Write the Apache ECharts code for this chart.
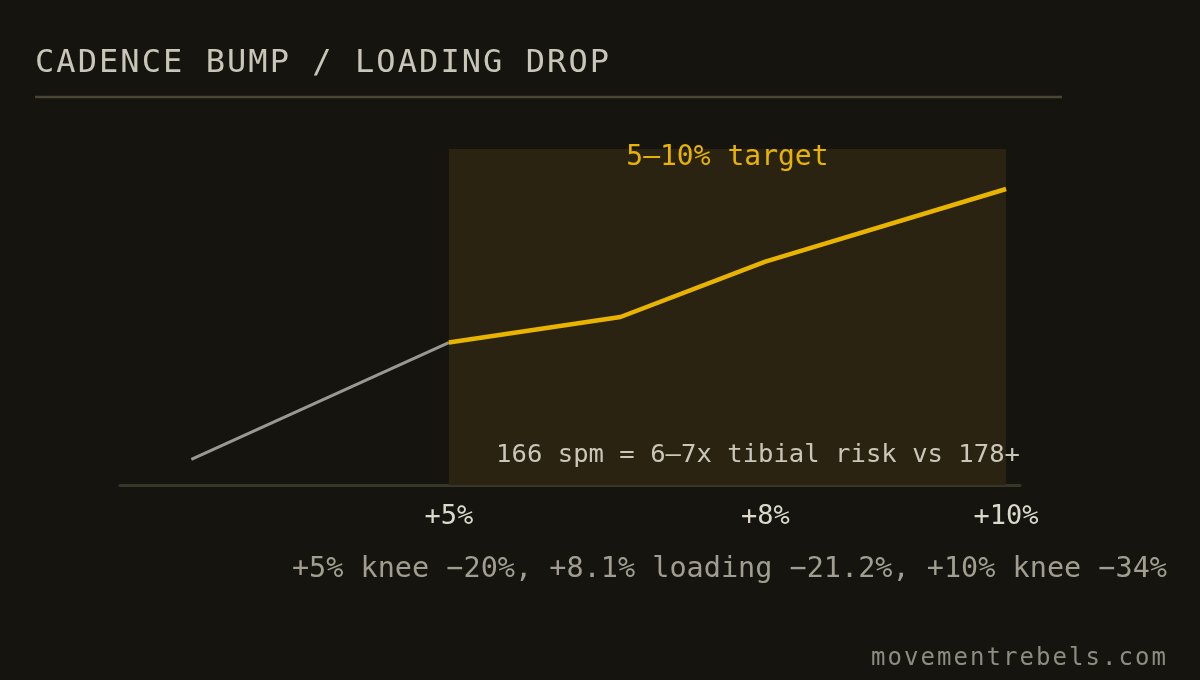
<!DOCTYPE html>
<html>
<head>
<meta charset="utf-8">
<script src="https://cdn.jsdelivr.net/npm/echarts@6/dist/echarts.min.js"></script>
<style>
  html, body { margin: 0; padding: 0; background: #15140f; }
  #chart { width: 1200px; height: 680px; }
</style>
</head>
<body>
<div id="chart"></div>
<script>
// ---- data ----
const cadenceX   = [2.69, 5, 6.54, 7.84, 10];        // cadence increase (%)
const indexY     = [7.6, 42.4, 50.0, 66.5, 88.1];     // benefit index
const grayIdx    = [0, 1];                            // baseline segment
const goldIdx    = [1, 2, 3, 4];                      // target segment
const tickValues = [5, 7.84, 10];
const tickLabels = ['+5%', '+8%', '+10%'];
const targetRange = [5, 10];
const titleText  = 'CADENCE BUMP / LOADING DROP';
const bandLabel  = '5–10% target';
const riskNote   = '166 spm = 6–7x tibial risk vs 178+';
const footnote   = '+5% knee −20%, +8.1% loading −21.2%, +10% knee −34%';
const credit     = 'movementrebels.com';

// letter-spaced texts (canvas letterSpacing applied per string)
const spacing = {};
spacing[titleText] = 2.07;
spacing[credit] = 2.05;
(function () {
  const proto = CanvasRenderingContext2D.prototype;
  const orig = proto.fillText;
  const native = 'letterSpacing' in proto;
  proto.fillText = function (t, x, y, mw) {
    const ls = spacing[t] || 0;
    if (native) {
      this.letterSpacing = ls + 'px';
      if (mw === undefined) orig.call(this, t, x, y); else orig.call(this, t, x, y, mw);
      this.letterSpacing = '0px';
      return;
    }
    if (!ls) return mw === undefined ? orig.call(this, t, x, y) : orig.call(this, t, x, y, mw);
    const align = this.textAlign;
    this.textAlign = 'left';
    let cx = x;
    for (const c of Array.from(t)) { orig.call(this, c, cx, y); cx += this.measureText(c).width + ls; }
    this.textAlign = align;
  };
})();

const FONT = "'DejaVu Sans Mono', monospace";
const pts = idx => idx.map(i => [cadenceX[i], indexY[i]]);

const chart = echarts.init(document.getElementById('chart'), null, { renderer: 'canvas' });
chart.setOption({
  backgroundColor: '#15140f',
  animation: false,
  title: [
    { text: titleText, left: 35, top: 48, padding: 0,
      textStyle: { color: '#c9c6b9', fontFamily: FONT, fontSize: 32, fontWeight: 'normal' } },
    { text: footnote, right: 33, top: 555, padding: 0,
      textStyle: { color: '#a19e91', fontFamily: FONT, fontSize: 28.5, fontWeight: 'normal' } },
    { text: credit, left: 871, top: 647, padding: 0,
      textStyle: { color: '#8e8b80', fontFamily: FONT, fontSize: 24, fontWeight: 'normal' } },
    { text: riskNote, right: 180, top: 442, padding: 0,
      textStyle: { color: '#cac7ba', fontFamily: FONT, fontSize: 25.6, fontWeight: 'normal' } }
  ],
  graphic: [
    { type: 'line', shape: { x1: 35, y1: 97, x2: 1062, y2: 97 },
      style: { stroke: '#4a4535', lineWidth: 2.5 }, silent: true }
  ],
  grid: { left: 120, right: 180, top: 149, bottom: 195 },
  xAxis: {
    type: 'value', min: 2.05, max: 10.125,
    splitLine: { show: false },
    axisTick: { show: false },
    axisLine: { show: true, lineStyle: { color: '#3a3529', width: 3 } },
    axisLabel: {
      customValues: tickValues,
      formatter: v => tickLabels[tickValues.indexOf(v)] || '',
      color: '#dcd9cc', fontFamily: FONT, fontSize: 27, margin: 18
    }
  },
  yAxis: { type: 'value', min: 0, max: 100, show: false },
  series: [
    {
      type: 'line', data: pts(grayIdx), symbol: 'none', z: 2,
      lineStyle: { color: '#9a9890', width: 3 },
      markArea: {
        silent: true,
        itemStyle: { color: '#2a2312' },
        label: { show: true, position: 'insideTop', distance: 0, offset: [0, -5],
          color: '#e8b400', fontFamily: FONT, fontSize: 28 },
        data: [[{ xAxis: targetRange[0], name: bandLabel }, { xAxis: targetRange[1] }]]
      }
    },
    {
      type: 'line', data: pts(goldIdx), symbol: 'none', z: 3,
      lineStyle: { color: '#e8b400', width: 4.5, join: 'round' }
    }
  ]
});
</script>
</body>
</html>
